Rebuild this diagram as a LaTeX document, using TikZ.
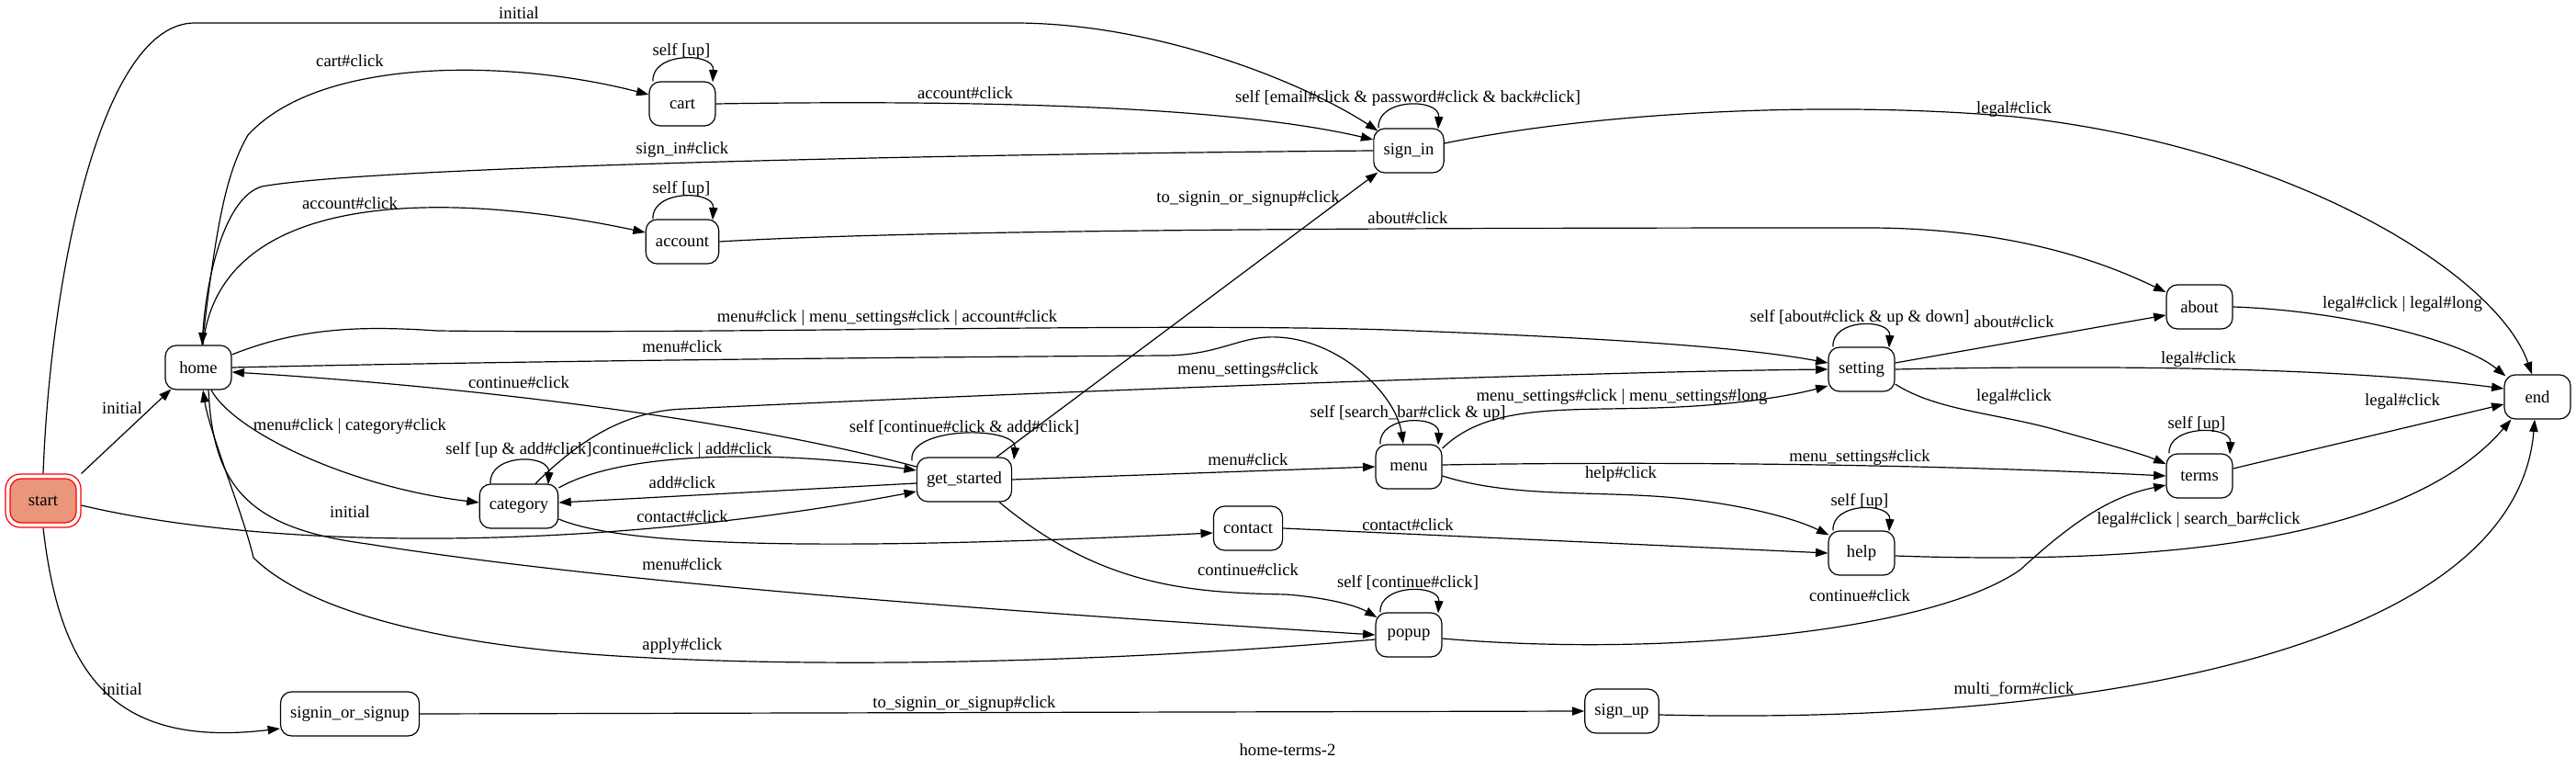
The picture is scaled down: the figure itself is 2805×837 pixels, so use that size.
\documentclass[tikz,border=0pt]{standalone}
\usepackage{fontspec}
\setmainfont{Liberation Serif}
\usetikzlibrary{arrows.meta,calc}
\definecolor{startfill}{HTML}{E9967A}
\begin{document}
\begin{tikzpicture}[x=0.75pt,y=-0.75pt,
  font=\fontsize{14}{16}\selectfont,
  stbox/.style={draw, rounded corners=9pt, minimum width=54pt, minimum height=36pt, inner xsep=8pt, inner ysep=0pt, line width=0.9pt},
  conn/.style={-{Triangle[length=10pt,width=7pt]}, line width=0.9pt},
  lbl/.style={anchor=base, yshift=-4.5pt, inner sep=0pt}]
\useasboundingbox (0,0) rectangle (2805,837);

% nodes
\node[stbox, draw=red, fill=startfill] (startin) at (47,545) {start};
\node[draw=red, rounded corners=12pt, minimum width=61.5pt, minimum height=43.5pt, line width=0.9pt] (start) at (47,545) {};
\node[stbox] (home) at (216,400) {home};
\node[stbox] (cart) at (743,113) {cart};
\node[stbox] (account) at (743,263) {account};
\node[stbox] (signin) at (1534,164) {sign\_in};
\node[stbox] (category) at (565,551) {category};
\node[stbox] (sios) at (381,777) {signin\_or\_signup};
\node[stbox] (getstarted) at (1050,522) {get\_started};
\node[stbox] (menu) at (1534,508) {menu};
\node[stbox] (contact) at (1359,575) {contact};
\node[stbox] (popup) at (1534,691) {popup};
\node[stbox] (signup) at (1766,774) {sign\_up};
\node[stbox] (about) at (2395,334) {about};
\node[stbox] (setting) at (2027,402) {setting};
\node[stbox] (endn) at (2763,432) {end};
\node[stbox] (terms) at (2395,518) {terms};
\node[stbox] (help) at (2027,602) {help};

% edges from start
\draw[conn] (start.north) .. controls (55,300) and (110,25) .. (212,25) -- (1104,25) .. controls (1260,25) and (1420,90) .. ($(signin.north west)+(5,3)$);
\draw[conn] (start.north east) -- ($(home.south west)+(7,-1)$);
\draw[conn] ($(start.east)+(0,5)$) .. controls (300,600) and (650,600) .. ($(getstarted.west)+(0,13)$);
\draw[conn] (start.south) .. controls (65,730) and (120,815) .. ($(sios.west)+(0,16)$);

% home edges
\draw[conn] ($(home.north)+(4,0)$) .. controls (235,250) and (245,190) .. (270,147) .. controls (350,60) and (560,65) .. ($(cart.west)+(0,-10)$);
\draw[conn] ($(home.north)+(5,0)$) .. controls (240,200) and (500,210) .. ($(account.west)+(0,-10)$);
\draw[conn] (signin.west) .. controls (1000,168) and (400,182) .. (285,203) .. controls (245,215) and (225,300) .. ($(home.north)+(4,0)$);
\draw[conn] ($(home.east)+(0,-14)$) .. controls (330,355) and (400,355) .. (476,360) .. controls (800,364) and (1300,350) .. (1538,360) .. controls (1750,368) and (1900,378) .. ($(setting.west)+(0,-7)$);
\draw[conn] (home.east) .. controls (600,392) and (1100,388) .. (1270,387) .. controls (1330,386) and (1350,365) .. (1391,367) .. controls (1460,370) and (1520,430) .. ($(menu.north)+(-6,0)$);
\draw[conn] ($(getstarted.west)+(0,-14)$) .. controls (800,455) and (500,420) .. ($(home.east)+(0,5)$);
\draw[conn] ($(home.south)+(11,0)$) .. controls (232,530) and (270,575) .. (400,592) .. controls (700,640) and (1200,672) .. (popup.west);
\draw[conn] ($(popup.west)+(0,5)$) .. controls (1200,722) and (900,727) .. (689,715) .. controls (500,705) and (340,670) .. (276,607) .. controls (265,560) and (228,470) .. ($(home.south)+(5,0)$);
\draw[conn] ($(home.south)+(14,0)$) .. controls (255,470) and (380,530) .. ($(category.west)+(0,-4)$);

% cart / account
\draw[conn] (cart.east) .. controls (1100,108) and (1350,118) .. ($(signin.west)+(0,-12)$);
\draw[conn] (account.east) .. controls (1000,250) and (1500,248) .. (2033,248) .. controls (2200,248) and (2300,290) .. ($(about.west)+(0,-16)$);

% sign_in
\draw[conn] ($(signin.east)+(0,-8)$) .. controls (1750,120) and (2000,110) .. (2193,127) .. controls (2500,160) and (2720,300) .. ($(endn.north)+(-6,0)$);

% category
\draw[conn] ($(category.north)+(18,0)$) .. controls (630,480) and (680,447) .. (746,445) .. controls (1100,428) and (1700,405) .. (setting.west);
\draw[conn] ($(category.east)+(0,-20)$) .. controls (680,490) and (850,490) .. ($(getstarted.west)+(0,-10)$);
\draw[conn] ($(getstarted.west)+(0,4)$) -- ($(category.east)+(0,-4)$);
\draw[conn] ($(category.east)+(0,14)$) .. controls (680,595) and (900,600) .. ($(contact.west)+(0,5)$);

% get_started
\draw[conn] ($(getstarted.north east)+(-17,0)$) -- ($(signin.south west)+(5,-1)$);
\draw[conn] (getstarted.east) -- (menu.west);
\draw[conn] ($(getstarted.south east)+(-14,0)$) .. controls (1200,640) and (1300,645) .. (1400,647) .. controls (1440,650) and (1475,658) .. ($(popup.west)+(2,-19)$);

% menu
\draw[conn] ($(menu.east)+(0,-20)$) .. controls (1620,440) and (1700,447) .. (1800,444) .. controls (1880,442) and (1945,432) .. ($(setting.west)+(0,18)$);
\draw[conn] ($(menu.east)+(0,-2)$) .. controls (1800,502) and (2100,505) .. (terms.west);
\draw[conn] ($(menu.east)+(0,10)$) .. controls (1640,540) and (1720,535) .. (1800,540) .. controls (1880,545) and (1950,562) .. ($(help.north west)+(1,5)$);

% contact, popup, sios, sign_up
\draw[conn] (contact.east) -- (help.west);
\draw[conn] ($(popup.east)+(0,4)$) .. controls (1800,715) and (2100,690) .. (2200,620) .. controls (2260,565) and (2300,540) .. ($(terms.west)+(0,10)$);
\draw[conn] (sios.east) -- (signup.west);
\draw[conn] ($(signup.east)+(0,4)$) .. controls (2300,790) and (2740,700) .. ($(endn.south)+(-3,0)$);

% setting, about, terms, help
\draw[conn] ($(setting.east)+(0,-7)$) -- ($(about.west)+(0,9)$);
\draw[conn] (setting.east) .. controls (2300,397) and (2550,400) .. ($(endn.west)+(0,-9)$);
\draw[conn] ($(setting.east)+(0,16)$) .. controls (2110,448) and (2180,450) .. (2246,470) .. controls (2300,485) and (2335,495) .. ($(terms.west)+(0,-13)$);
\draw[conn] (about.east) .. controls (2550,338) and (2680,370) .. ($(endn.north west)+(2,2)$);
\draw[conn] ($(terms.east)+(0,-8)$) -- ($(endn.west)+(0,8)$);
\draw[conn] ($(help.east)+(0,3)$) .. controls (2350,615) and (2620,590) .. ($(endn.south west)+(8,0)$);

% self loops
\draw[conn] ($(cart.north)+(-32,0)$) .. controls ($(cart.north)+(-34,-32)$) and ($(cart.north)+(35,-32)$) .. ($(cart.north)+(33,1)$);
\draw[conn] ($(account.north)+(-32,0)$) .. controls ($(account.north)+(-34,-32)$) and ($(account.north)+(35,-32)$) .. ($(account.north)+(33,1)$);
\draw[conn] ($(signin.north)+(-33,0)$) .. controls ($(signin.north)+(-35,-33)$) and ($(signin.north)+(34,-33)$) .. ($(signin.north)+(32,1)$);
\draw[conn] ($(category.north)+(-31,0)$) .. controls ($(category.north)+(-33,-33)$) and ($(category.north)+(34,-33)$) .. ($(category.north)+(32,1)$);
\draw[conn] ($(getstarted.north)+(-57,4)$) .. controls ($(getstarted.north)+(-62,-34)$) and ($(getstarted.north)+(58,-34)$) .. ($(getstarted.north)+(54,3)$);
\draw[conn] ($(menu.north)+(-31,0)$) .. controls ($(menu.north)+(-33,-32)$) and ($(menu.north)+(34,-32)$) .. ($(menu.north)+(32,1)$);
\draw[conn] ($(popup.north)+(-31,0)$) .. controls ($(popup.north)+(-33,-31)$) and ($(popup.north)+(34,-31)$) .. ($(popup.north)+(32,1)$);
\draw[conn] ($(setting.north)+(-31,0)$) .. controls ($(setting.north)+(-33,-31)$) and ($(setting.north)+(32,-31)$) .. ($(setting.north)+(30,1)$);
\draw[conn] ($(terms.north)+(-33,0)$) .. controls ($(terms.north)+(-35,-31)$) and ($(terms.north)+(35,-31)$) .. ($(terms.north)+(33,1)$);
\draw[conn] ($(help.north)+(-31,0)$) .. controls ($(help.north)+(-33,-31)$) and ($(help.north)+(32,-31)$) .. ($(help.north)+(30,1)$);

% labels
\node[lbl] (l1) at (565,15) {initial};
\node[lbl] (l2) at (381,67) {cart\#click};
\node[lbl] (l3) at (742,55) {self [up]};
\node[lbl] (l4) at (1051,102) {account\#click};
\node[lbl] (l5) at (1533,106) {self [email\#click \& password\#click \& back\#click]};
\node[lbl] (l6) at (2193,118) {legal\#click};
\node[lbl] (l7) at (743,162) {sign\_in\#click};
\node[lbl] (l8) at (742,205) {self [up]};
\node[lbl] (l9) at (381,222) {account\#click};
\node[lbl] (l10) at (1359,215) {to\_signin\_or\_signup\#click};
\node[lbl] (l11) at (1533,238) {about\#click};
\node[lbl] (l12) at (2616,330) {legal\#click | legal\#long};
\node[lbl] (l13) at (2025,345) {self [about\#click \& up \& down]};
\node[lbl] (l14) at (2193,351) {about\#click};
\node[lbl] (l15) at (966,345) {menu\#click | menu\_settings\#click | account\#click};
\node[lbl] (l16) at (743,378) {menu\#click};
\node[lbl] (l17) at (2394,390) {legal\#click};
\node[lbl] (l18) at (1359,402) {menu\_settings\#click};
\node[lbl] (l19) at (565,417) {continue\#click};
\node[lbl] (l20) at (1766,431) {menu\_settings\#click | menu\_settings\#long};
\node[lbl] (l21) at (2193,431) {legal\#click};
\node[lbl] (l22) at (2616,436) {legal\#click};
\node[lbl] (l23) at (133,445) {initial};
\node[lbl] (l24) at (1533,449) {self [search\_bar\#click \& up]};
\node[lbl] (l25) at (2392,461) {self [up]};
\node[lbl] (l26) at (381,463) {menu\#click | category\#click};
\node[lbl] (l27) at (1050,464) {self [continue\#click \& add\#click]};
\node[lbl] (l28) at (743,488) {continue\#click | add\#click};
\node[lbl] (l29) at (565,488) {self [up \& add\#click]};
\node[lbl] (l30) at (2025,497) {menu\_settings\#click};
\node[lbl] (l31) at (1359,501) {menu\#click};
\node[lbl] (l32) at (1765,514) {help\#click};
\node[lbl] (l33) at (743,526) {add\#click};
\node[lbl] (l34) at (2025,545) {self [up]};
\node[lbl] (l35) at (381,557) {initial};
\node[lbl] (l36) at (743,562) {contact\#click};
\node[lbl] (l37) at (2394,564) {legal\#click | search\_bar\#click};
\node[lbl] (l38) at (1533,571) {contact\#click};
\node[lbl] (l39) at (743,614) {menu\#click};
\node[lbl] (l40) at (1359,620) {continue\#click};
\node[lbl] (l41) at (1533,633) {self [continue\#click]};
\node[lbl] (l42) at (2025,648) {continue\#click};
\node[lbl] (l43) at (743,701) {apply\#click};
\node[lbl] (l44) at (133,750) {initial};
\node[lbl] (l45) at (2193,749) {multi\_form\#click};
\node[lbl] (l46) at (1050,764) {to\_signin\_or\_signup\#click};
\node[lbl] (l47) at (1402,816) {home-terms-2};
\end{tikzpicture}
\end{document}
